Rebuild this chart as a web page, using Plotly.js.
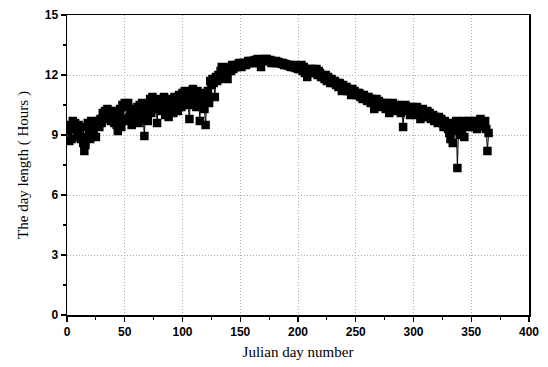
<!DOCTYPE html>
<html><head><meta charset="utf-8">
<script src="https://cdn.plot.ly/plotly-3.0.1.min.js"></script>
<style>html,body{margin:0;padding:0;background:#fff}#chart{width:548px;height:367px}</style>
</head><body><div id="chart"></div>
<script>
const dayLength = [
9.2,8.7,9.5,8.8,9.7,9.4,9.6,9.3,8.9,9.5,
9.1,8.8,9.4,8.6,8.2,8.5,8.9,9.6,9.2,8.8,
9.7,9.0,9.3,9.6,8.9,9.5,9.7,9.4,9.8,9.6,
10.1,9.8,10.2,9.9,10.3,10.0,10.2,9.7,10.1,10.0,
9.6,10.2,9.5,9.2,9.9,10.3,9.4,10.5,9.8,10.6,
10.4,9.7,10.6,9.9,10.2,9.5,9.8,10.3,9.9,10.1,
10.4,9.6,10.5,10.0,10.6,9.8,8.95,10.4,10.2,9.7,
10.5,10.8,10.1,10.9,10.6,10.3,10.7,9.6,10.4,10.8,
10.5,10.2,10.6,10.9,10.0,10.7,10.4,9.9,10.8,10.3,
10.6,10.1,10.9,10.5,10.7,10.2,11.0,10.6,10.4,11.1,
10.8,11.2,10.7,11.0,10.5,9.8,11.1,10.9,11.3,10.6,
11.0,10.4,11.2,10.8,9.7,11.1,10.5,11.0,10.3,9.5,
10.9,11.2,10.6,11.7,11.5,11.8,11.6,10.9,11.9,11.7,
12.0,11.8,12.2,12.4,11.9,12.3,12.1,12.2,11.8,12.3,
12.4,12.2,12.5,12.3,12.4,12.5,12.4,12.5,12.6,12.5,
12.4,12.6,12.5,12.6,12.5,12.6,12.7,12.6,12.7,12.6,
12.7,12.6,12.75,12.7,12.8,12.6,12.7,12.4,12.75,12.7,
12.8,12.75,12.8,12.7,12.7,12.75,12.6,12.7,12.65,12.6,
12.7,12.6,12.65,12.6,12.6,12.55,12.6,12.5,12.55,12.5,
12.5,12.45,12.5,12.4,12.45,12.4,12.5,12.35,12.4,12.3,
12.4,12.3,12.5,12.2,12.4,12.1,12.3,11.9,12.2,12.3,
12.1,12.2,12.3,12.2,12.1,12.3,12.0,12.2,12.1,11.9,
12.0,11.9,11.8,12.0,11.7,11.9,11.8,11.6,11.8,11.7,
11.6,11.7,11.5,11.6,11.4,11.6,11.5,11.2,11.5,11.4,
11.3,11.4,11.2,11.3,11.2,11.0,11.3,11.1,11.2,11.0,
11.1,11.0,11.1,10.9,11.0,10.8,11.0,10.9,10.8,10.7,
10.9,10.8,10.6,10.8,10.7,10.3,10.6,10.8,10.5,10.7,
10.6,10.5,10.4,10.6,10.5,10.3,10.6,10.4,10.1,10.5,
10.4,10.6,10.3,10.5,10.2,10.4,10.5,10.3,10.1,10.4,
9.4,10.3,10.5,10.2,10.4,10.3,10.0,10.2,10.4,10.1,
10.3,10.0,10.4,10.2,10.1,9.8,10.2,10.3,9.9,10.1,
10.0,10.2,9.9,10.1,9.8,9.9,10.0,9.7,9.9,9.8,
9.6,9.9,9.7,9.8,9.6,9.4,9.7,9.5,9.6,9.3,
9.1,8.8,9.5,8.6,9.6,9.2,9.7,7.35,9.4,9.0,
9.6,9.1,9.7,8.9,9.5,9.6,9.4,9.7,9.5,9.6,
9.4,9.7,9.5,9.6,9.3,9.7,9.5,9.8,9.4,9.6,
9.5,9.7,9.3,8.2,9.1
];
const julianDay = dayLength.map((_, i) => i + 1);
const xTicks = [0,50,100,150,200,250,300,350,400];
const yTicks = [0,3,6,9,12,15];

const tickFont = {family: 'Liberation Sans, Arial, sans-serif', size: 12, color: '#000', weight: 'bold'};
const titleFont = {family: 'Liberation Serif, Times New Roman, serif', size: 15, color: '#000'};

Plotly.newPlot('chart', [{
  x: julianDay, y: dayLength, type: 'scatter', mode: 'lines+markers',
  line: {color: '#000', width: 1},
  marker: {symbol: 'square', size: 8.5, color: '#000'}
}], {
  width: 548, height: 367,
  margin: {l: 67, r: 19, t: 15, b: 52},
  paper_bgcolor: '#fff', plot_bgcolor: '#fff',
  showlegend: false,
  xaxis: {
    range: [0, 400], tickvals: xTicks, ticktext: xTicks.map(String),
    ticks: 'outside', ticklen: 5, tickwidth: 1.2, tickcolor: '#000',
    minor: {ticks: 'outside', ticklen: 3, dtick: 25, tick0: 0, tickcolor: '#000', showgrid: false},
    showline: true, linecolor: '#000', linewidth: 1.5, mirror: true,
    showgrid: true, gridcolor: '#aaa', griddash: '1px,2px', gridwidth: 1,
    zeroline: false, tickfont: tickFont,
    title: {text: 'Julian day number', font: titleFont, standoff: 8}
  },
  yaxis: {
    range: [0, 15], tickvals: yTicks, ticktext: yTicks.map(String),
    ticks: 'outside', ticklen: 5, tickwidth: 1.2, tickcolor: '#000',
    minor: {ticks: 'outside', ticklen: 3, dtick: 1.5, tick0: 0, tickcolor: '#000', showgrid: false},
    showline: true, linecolor: '#000', linewidth: 1.5, mirror: true,
    showgrid: true, gridcolor: '#aaa', griddash: '1px,2px', gridwidth: 1,
    zeroline: false, tickfont: tickFont,
    title: {text: 'The day length ( Hours )', font: titleFont, standoff: 12}
  }
}, {displayModeBar: false, staticPlot: true});
</script></body></html>
